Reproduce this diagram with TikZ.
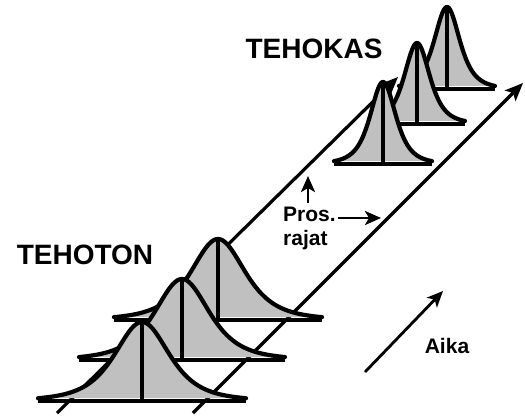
\documentclass[tikz,border=0pt]{standalone}
\usepackage{fontspec}
\setmainfont{Liberation Sans}
\usetikzlibrary{arrows.meta}
\tikzset{
  bellfill/.style={draw=black, line width=4.2pt, line join=round, line cap=round},
  bellline/.style={draw=black, line width=3.6pt},
  diag/.style={draw=black, line width=3.2pt, -{Stealth[length=18pt,width=15pt,inset=4pt]}},
  smallarrow/.style={draw=black, line width=2.8pt, -{Stealth[length=16pt,width=14pt,inset=4pt]}},
  bigtext/.style={font=\bfseries\fontsize{28}{30}\selectfont, inner sep=0pt},
  smalltext/.style={font=\bfseries\fontsize{21}{24}\selectfont, inner sep=0pt},
}
\definecolor{bellgray}{HTML}{C0C0C0}
% #1 mean x, #2 baseline y, #3 height, #4 scale a, #5 half width
\newcommand{\bellcurve}[5]{%
  \fill[bellgray] plot[domain=-#5:#5, samples=121, smooth] ({#1+\x},{#2-#3/((1+(\x/#4)^2)^2)}) -- cycle;
  \draw[bellfill] plot[domain=-#5:#5, samples=121, smooth] ({#1+\x},{#2-#3/((1+(\x/#4)^2)^2)});
  \draw[bellline] (#1-#5,#2) -- (#1+#5,#2);
  \draw[bellline] (#1,#2) -- (#1,#2-#3);
}
\begin{document}
\begin{tikzpicture}[x=1pt,y=-1pt]
\useasboundingbox (0,0) rectangle (525,416);
% diagonal lines
\coordinate (L0) at (57,413);
\coordinate (L1) at (398,77);
\coordinate (R0) at (193,413);
\coordinate (R1) at (523,83);
\draw[diag] (L0) -- (L1);
\draw[diag] (R0) -- (R1);
% wide curves (TEHOTON)
\bellcurve{218}{320}{81}{50}{104}
\bellcurve{182}{360}{81}{50}{103}
\bellcurve{142}{401}{79}{50}{104}
% narrow curves (TEHOKAS)
\bellcurve{447}{89}{82}{23.5}{48}
\bellcurve{417}{124}{81}{23.5}{48}
\bellcurve{383}{164}{82}{23.5}{49}
% labels
\node[bigtext] (tehoton) at (85,255) {TEHOTON};
\node[bigtext] (tehokas) at (314,49) {TEHOKAS};
\node[smalltext, align=left, anchor=north west] (pros) at (283,207) {Pros.\\rajat};
\node[smalltext] (aika) at (447,346) {Aika};
% small arrows
\coordinate (V0) at (308,203);
\coordinate (V1) at (308,176);
\coordinate (H0) at (338,218);
\coordinate (H1) at (381,218);
\coordinate (A0) at (365,372);
\coordinate (A1) at (443,291);
\draw[smallarrow] (V0) -- (V1);
\draw[smallarrow] (H0) -- (H1);
\draw[smallarrow] (A0) -- (A1);
\end{tikzpicture}
\end{document}
